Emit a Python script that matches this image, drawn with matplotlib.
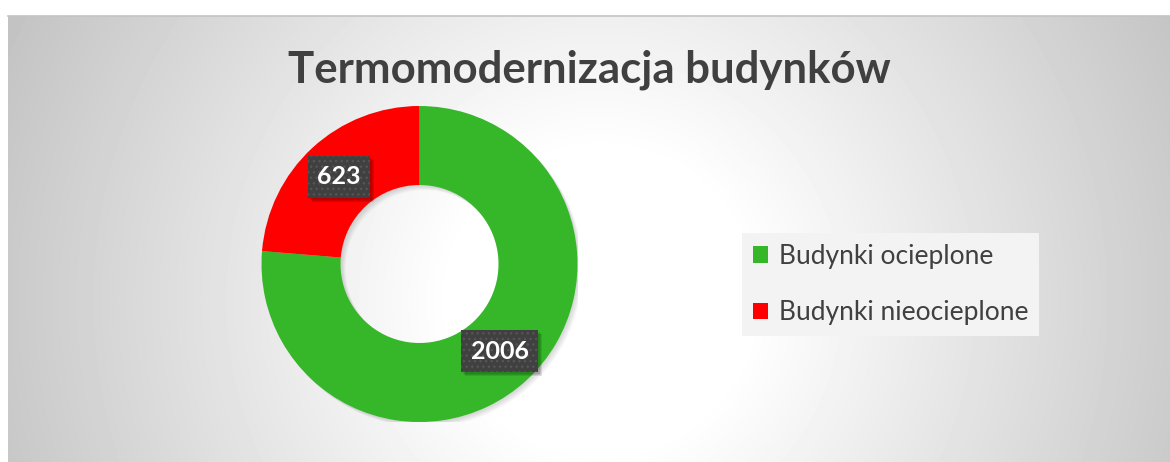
import numpy as np
import matplotlib.pyplot as plt
from matplotlib.patches import Patch, Wedge, Rectangle
from matplotlib.transforms import IdentityTransform

# Data
categories = ['Budynki ocieplone', 'Budynki nieocieplone']
values = [2006, 623]
colors = ['#36B729', '#FF0000']
title = 'Termomodernizacja budynków'

W, H = 1170, 462
plt.rcParams['font.family'] = ['Lato', 'DejaVu Sans']
plt.rcParams['hatch.linewidth'] = 1.0

fig = plt.figure(figsize=(W / 100, H / 100), dpi=100)
fig.patch.set_facecolor('white')

# Background radial gradient (chart area)
bg = fig.add_axes([8 / W, 0, 1 - 8 / W, (H - 16) / H])
yy, xx = np.mgrid[16:H, 8:W]
d = np.hypot(xx - 600, yy - 300)
v = np.clip(255 - 0.12 * np.maximum(d - 150, 0), 190, 255) / 255
bg.imshow(v, cmap='gray', vmin=0, vmax=1, aspect='auto', interpolation='bilinear')
bg.set_axis_off()
fig.add_artist(plt.Line2D([8 / W, 1], [(H - 16) / H] * 2, color='#C4C4C4', lw=1.2))

# Title
fig.text(589.5 / W, (H - 83) / H, title, ha='center', va='baseline',
         fontsize=31.5, fontweight='bold', color='#404040')

# Donut
cx, cy, r = 419.5, 264, 158
ax = fig.add_axes([(cx - r) / W, (H - cy - r) / H, 2 * r / W, 2 * r / H])
# soft shadow under the ring
for k in range(1, 6):
    off = k * 1.0 / r
    ax.add_patch(Wedge((off, -off), 1.0, 0, 360, width=0.5, fc='black', ec='none',
                       alpha=0.03, zorder=0))
wedges, _ = ax.pie(values, colors=colors, startangle=90, counterclock=False,
                   radius=1, wedgeprops=dict(width=0.5, edgecolor='none'))
ax.set_xlim(-1, 1)
ax.set_ylim(-1, 1)
ax.set_axis_off()

# Data labels in dark patterned boxes
total = sum(values)
start = 90
labels = []
for val in values:
    ang = np.deg2rad(start - 360 * val / total / 2)
    start -= 360 * val / total
    x, y = 0.75 * np.cos(ang), 0.75 * np.sin(ang)
    t = ax.text(x, y, str(val), ha='center', va='center', fontsize=18, fontweight='bold',
                color='white', zorder=5,
                bbox=dict(boxstyle='square,pad=0.38', fc='#404040', ec='#555555',
                          lw=0, hatch='...'))
    labels.append(t)

# box shadows, placed from the rendered label boxes
fig.canvas.draw()
for t in labels:
    bb = t.get_bbox_patch().get_window_extent()
    for k in range(1, 4):
        ax.add_artist(Rectangle((bb.x0 + 1 + k, bb.y0 - 1 - k), bb.width, bb.height,
                                transform=IdentityTransform(), fc='black', ec='none',
                                alpha=0.1, zorder=4))

# Legend
handles = [Patch(facecolor=c, edgecolor='none') for c in colors]
leg = fig.legend(handles, categories, loc='center', bbox_to_anchor=(890.5 / W, (H - 284.5) / H),
                 fontsize=19, frameon=True, fancybox=False, handlelength=0.6, handleheight=0.6,
                 handletextpad=0.4, labelspacing=1.2, borderpad=0.39)
leg.get_frame().set_facecolor('#F3F3F3')
leg.get_frame().set_edgecolor('none')
leg.get_frame().set_alpha(1)
for t in leg.get_texts():
    t.set_color('#404040')

fig.savefig('out.png', dpi=100, facecolor='white')
